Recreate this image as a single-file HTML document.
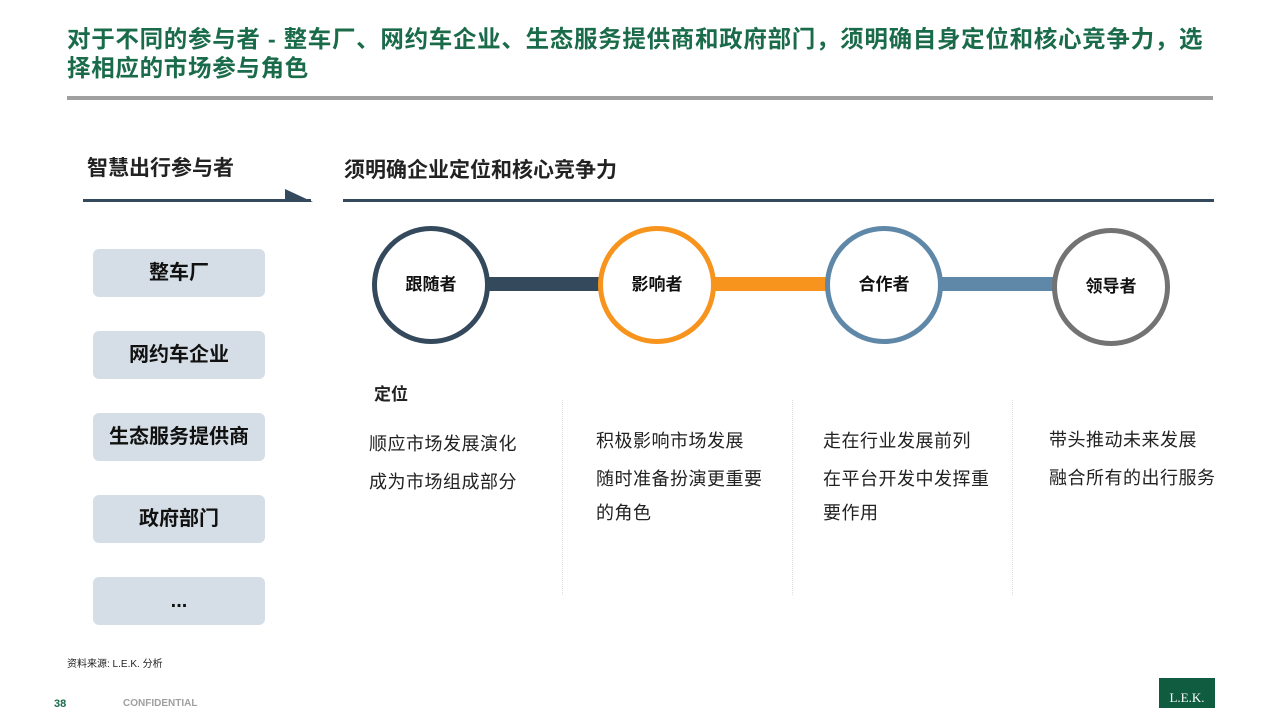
<!DOCTYPE html>
<html><head><meta charset="utf-8"><style>
body{margin:0;width:1280px;height:720px;background:#fff;position:relative;overflow:hidden;font-family:"Liberation Sans","Noto Sans CJK SC",sans-serif;color:#222}
.a{position:absolute}
.title{left:67px;top:25px;white-space:nowrap;font-size:23.5px;letter-spacing:0.7px;font-weight:bold;color:#1a6b4a;line-height:29px}
.box{position:absolute;left:93px;width:172px;height:48px;background:#d5dee6;border-radius:6px;font-size:20px;font-weight:bold;text-align:center;line-height:48px;color:#111}
.c{position:absolute;width:108px;height:108px;border-radius:50%;border:5px solid;background:#fff;text-align:center;line-height:108px;font-size:17px;font-weight:bold;color:#111}
.bar{position:absolute;top:277px;height:14px}
.t{position:absolute;font-size:18px;letter-spacing:0.5px;line-height:38px;color:#222}
.sep{position:absolute;top:400px;height:195px;border-left:1px dotted #ddd}
</style></head><body>
<div class="a title">对于不同的参与者 - 整车厂、网约车企业、生态服务提供商和政府部门，须明确自身定位和核心竞争力，选<br>择相应的市场参与角色</div>
<div class="a" style="left:67px;top:96px;width:1146px;height:4px;background:#a0a0a0"></div>
<div class="a" style="left:87px;top:152px;font-size:21px;font-weight:bold">智慧出行参与者</div>
<div class="a" style="left:344px;top:154px;font-size:21px;font-weight:bold">须明确企业定位和核心竞争力</div>
<div class="a" style="left:83px;top:199px;width:228px;height:3px;background:#34495b"></div>
<svg class="a" style="left:285px;top:189px" width="28" height="13"><polygon points="0,0 28,13 0,13" fill="#34495b"/></svg>
<div class="a" style="left:343px;top:199px;width:871px;height:3px;background:#34495b"></div>
<div class="box" style="top:249px">整车厂</div>
<div class="box" style="top:331px">网约车企业</div>
<div class="box" style="top:413px">生态服务提供商</div>
<div class="box" style="top:495px">政府部门</div>
<div class="box" style="top:577px">...</div>
<div class="bar" style="left:480px;width:130px;background:#34495b"></div>
<div class="bar" style="left:706px;width:130px;background:#f7941d"></div>
<div class="bar" style="left:933px;width:130px;background:#5f88a8"></div>
<div class="c" style="left:372px;top:226px;border-color:#34495b">跟随者</div>
<div class="c" style="left:598px;top:226px;border-color:#f7941d">影响者</div>
<div class="c" style="left:825px;top:226px;border-color:#5f88a8">合作者</div>
<div class="c" style="left:1052px;top:228px;border-color:#737373">领导者</div>
<div class="a" style="left:374px;top:380px;font-size:17px;font-weight:bold">定位</div>
<div class="sep" style="left:562px"></div><div class="sep" style="left:792px"></div><div class="sep" style="left:1012px"></div>
<div class="t" style="left:369px;top:425px">顺应市场发展演化<br>成为市场组成部分</div>
<div class="t" style="left:596px;top:422px;width:185px">积极影响市场发展<br>随时准备扮演更重要<br><span style="position:relative;top:-4px">的角色</span></div>
<div class="t" style="left:823px;top:422px;width:185px">走在行业发展前列<br>在平台开发中发挥重<br><span style="position:relative;top:-4px">要作用</span></div>
<div class="t" style="left:1049px;top:421px;white-space:nowrap">带头推动未来发展<br>融合所有的出行服务</div>
<div class="a" style="left:67px;top:655px;font-size:10px">资料来源: L.E.K. 分析</div>
<div class="a" style="left:54px;top:698px;font-size:11px;font-weight:bold;color:#1a6b4a">38</div>
<div class="a" style="left:123px;top:698px;font-size:10px;font-weight:bold;color:#a0a0a0">CONFIDENTIAL</div>
<div class="a" style="left:1159px;top:678px;width:56px;height:30px;background:#0f5c40;color:#fff;font-family:'Liberation Serif',serif;font-size:13px;text-align:center;line-height:40px">L.E.K.</div>
</body></html>
